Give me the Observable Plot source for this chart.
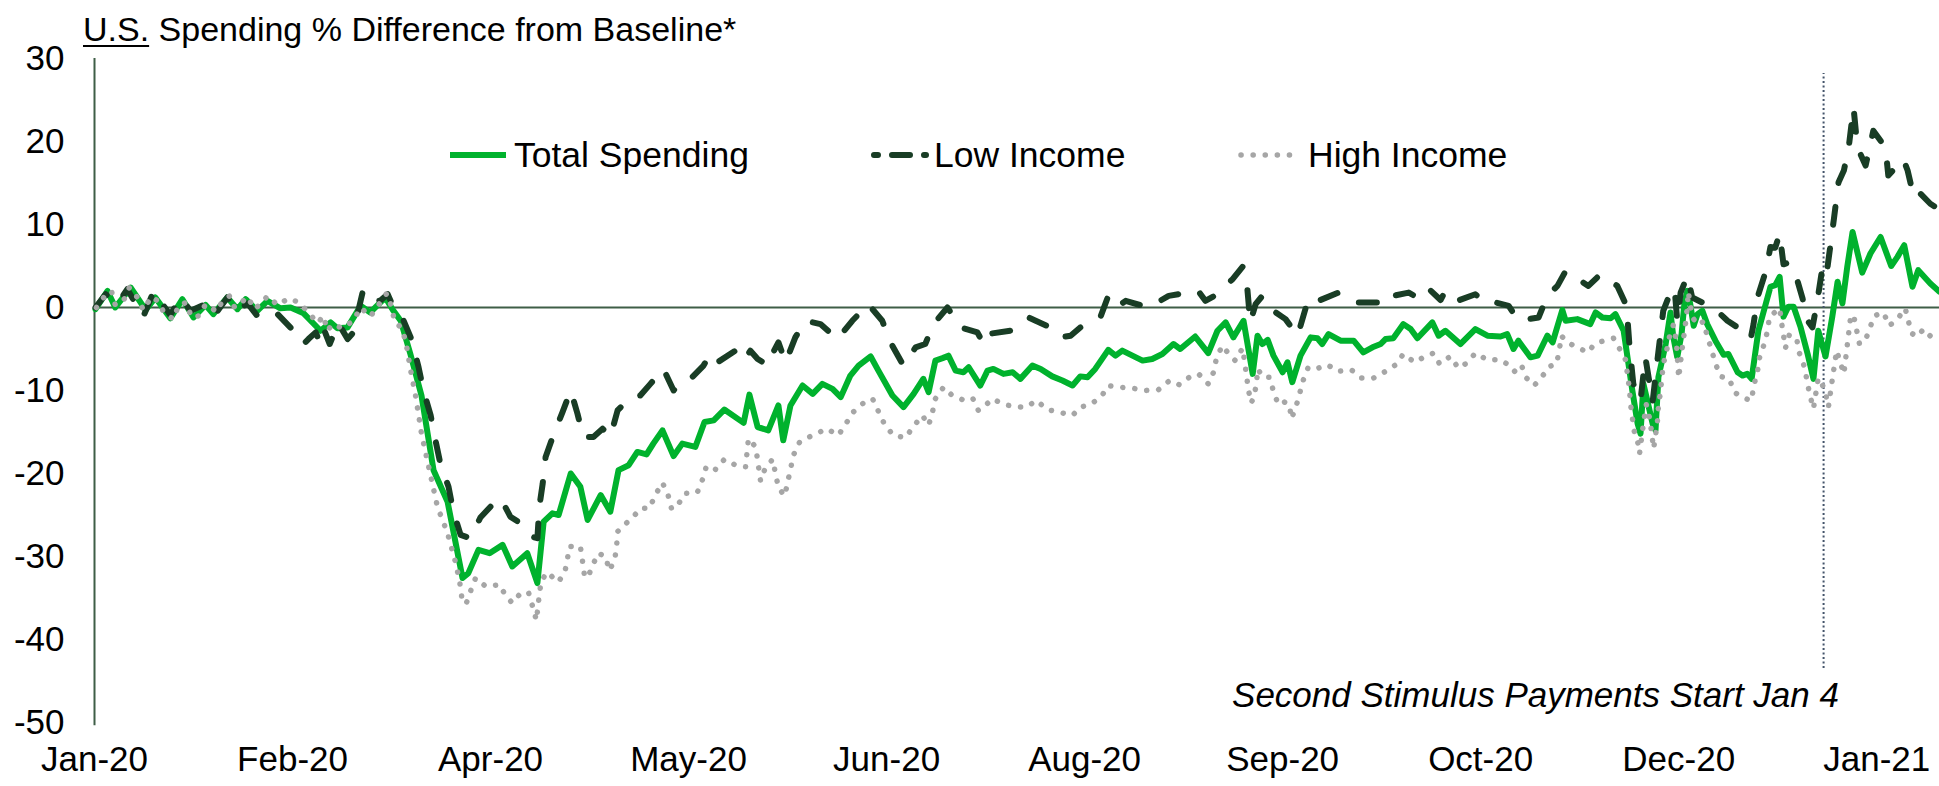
<!DOCTYPE html>
<html>
<head>
<meta charset="utf-8">
<script src="https://cdn.jsdelivr.net/npm/d3@7"></script>
<script src="https://cdn.jsdelivr.net/npm/@observablehq/plot@0.6"></script>
<style>
html,body{margin:0;padding:0;background:#fff;}
#wrap{position:relative;width:1939px;height:786px;overflow:hidden;font-family:"Liberation Sans",Arial,Helvetica,sans-serif;}
#title{position:absolute;left:83px;top:12px;font-size:34px;line-height:34px;color:#000;white-space:nowrap;}
#title u{text-decoration:underline;text-underline-offset:4px;text-decoration-thickness:2px;}
#wrap svg{position:absolute;left:0;top:0;}
</style>
</head>
<body>
<div id="wrap"><div id="title"><u>U.S.</u> Spending % Difference from Baseline*</div></div>
<script>
// ---------- DATA ----------
const baseDate = "2020-01-13";            // day 0 of the day offsets below
const xDomain = ["2020-01-13", "2021-01-29"];
const xTickDates = ["2020-01-13","2020-02-23","2020-04-04","2020-05-15","2020-06-25","2020-08-05","2020-09-15","2020-10-26","2020-12-06","2021-01-16"];
const yTicks = [-50,-40,-30,-20,-10,0,10,20,30];
const stimulusDate = "2021-01-05";
const stimulusSpan = [-43.5, 28.2];
const stimulusLabel = "Second Stimulus Payments Start Jan 4";
const seriesNames = ["Total Spending","Low Income","High Income"];

const totalDays = [0.2,2.7,4.3,7.5,10.6,12.6,15.7,18.2,20.5,23.0,
24.6,27.5,29.6,31.3,33.7,35.8,38.5,40.6,43.3,46.8,
48.9,50.3,52.4,55.1,57.1,60.2,61.9,63.4,65.4,67.7,
70.2,73.1,76.2,77.4,79.5,81.8,84.5,86.5,89.6,91.7,
93.0,94.8,96.1,98.6,100.6,102.1,104.8,106.8,108.5,110.6,
112.4,114.3,115.7,117.6,119.9,121.7,124.4,126.3,128.2,130.4,
134.4,135.6,137.3,139.5,141.6,142.6,144.1,146.6,148.7,150.7,
152.8,154.5,156.5,158.2,160.7,162.3,165.2,167.5,169.6,171.6,
172.7,174.1,175.6,176.8,178.3,179.9,181.0,183.4,184.9,186.1,
188.2,190.1,191.7,194.2,195.9,198.3,200.4,202.5,204.1,205.6,
207.2,209.9,211.4,212.8,214.9,217.0,219.0,221.1,223.4,224.8,
227.9,230.6,232.5,234.2,235.8,237.9,239.8,240.8,241.8,242.9,
244.1,246.0,247.0,248.0,249.7,251.8,253.2,254.2,255.5,258.0,
260.7,262.7,264.6,266.3,267.3,268.9,271.0,272.5,273.9,277.0,
278.3,279.7,282.8,285.9,288.4,291.1,292.5,293.8,294.8,297.3,
298.8,300.8,301.9,303.9,304.6,307.0,309.7,310.8,312.2,313.9,
314.9,316.6,317.6,318.4,319.5,320.1,320.7,321.5,322.6,323.2,
323.8,325.3,326.3,326.9,327.7,328.6,329.2,329.8,330.4,331.1,
331.9,332.9,333.9,335.6,337.3,338.3,340.2,341.2,342.2,343.1,
344.5,347.0,348.0,348.9,349.7,350.7,351.8,353.2,354.7,355.9,
356.9,358.4,359.8,360.9,361.9,362.9,364.0,366.0,367.7,369.8,
372.0,373.3,374.7,376.4,377.6,380.1,382.0];
const totalSpending = [-0.2,2.0,0,2.4,-0.3,1.2,-1.3,1.0,-1.2,0.3,
-0.8,1.2,-0.2,1.0,-0.4,0.8,-0.1,0,-0.7,-2.8,
-1.8,-2.5,-2.4,0.2,-0.6,1.2,-0.4,-1.6,-5.6,-10.6,
-19.6,-23.4,-32.6,-32,-29.2,-29.6,-28.6,-31.2,-29.6,-33.2,
-25.8,-24.8,-25,-20,-21.6,-25.6,-22.6,-24.6,-19.6,-19,
-17.4,-17.7,-16.4,-14.8,-17.9,-16.4,-16.8,-13.8,-13.6,-12.3,
-13.9,-10.5,-14.4,-14.8,-11.8,-16,-11.8,-9.4,-10.4,-9.2,
-9.8,-10.8,-8.2,-7,-5.9,-7.6,-10.6,-12,-10.4,-8.6,
-10.2,-6.4,-6.1,-5.8,-7.6,-7.8,-7.2,-9.4,-7.6,-7.4,
-8,-7.8,-8.6,-7,-7.4,-8.3,-8.8,-9.4,-8.3,-8.4,
-7.4,-5.1,-5.8,-5.2,-5.8,-6.4,-6.2,-5.6,-4.4,-5,
-3.5,-5.5,-2.8,-1.8,-3.6,-1.6,-8,-3.4,-4.4,-3.9,
-5.8,-7.8,-6.6,-9,-5.8,-3.6,-3.7,-4.4,-3.2,-4,
-4,-5.4,-4.8,-4.4,-3.8,-3.7,-2,-2.6,-3.7,-1.8,
-3.4,-2.8,-4.4,-2.6,-3.4,-3.5,-3.2,-5,-4,-6,
-5.8,-3.4,-4.2,-0.3,-1.6,-1.4,-2,-0.6,-1.2,-1.3,
-0.8,-2.8,-6.8,-10,-14,-15.2,-9.2,-11.2,-14,-14.8,
-8.4,-4.4,-0.6,-3.6,-6,-3.2,0.6,2,0.4,-2.2,
-0.8,-0.4,-2,-4,-5.7,-5.6,-7.8,-8.2,-8,-8.6,
-2.8,2.5,2.7,3.7,-1.1,0.1,0.1,-2.3,-5.6,-8.6,
-2.8,-5.9,-1.1,3.1,0.5,4.9,9.1,4.2,6.5,8.5,
5,6.1,7.5,2.5,4.5,2.9,1.9];

const lowDays = [0.2,2.3,4.8,6.8,10.1,12.2,15.7,17.8,19.9,22.6,
24.6,27.5,29.6,31.7,33.7,35.8,37.9,41.2,43.3,44.3,
45.8,46.8,47.6,48.7,50.5,52.4,53.6,54.7,55.5,56.5,
59.2,60.7,61.7,63.8,65.6,67.1,68.1,69.6,70.6,71.6,
73.3,74.3,75.8,77.8,79.9,82.0,84.1,86.1,88.2,90.5,
91.7,92.1,92.8,93.4,95.0,96.9,98.6,100.0,101.2,103.3,
105.2,106.8,108.3,111.0,113.0,115.1,117.8,119.9,121.7,123.4,
126.1,127.5,129.0,132.7,134.4,135.8,137.3,139.5,140.0,141.6,
143.1,145.1,147.2,150.3,153.8,156.9,160.2,163.1,164.8,167.5,
170.0,172.0,173.7,176.6,179.3,182.8,184.1,184.9,189.6,193.4,
197.9,200.0,202.1,204.1,208.3,209.9,211.8,213.5,218.2,222.4,
226.3,228.4,230.0,232.5,235.6,237.7,238.7,239.3,240.4,241.8,
244.1,246.6,249.1,251.1,252.4,253.8,257.6,261.5,265.6,268.3,
268.9,272.1,273.9,276.0,278.7,279.7,282.2,285.9,288.4,290.1,
292.8,294.8,299.0,300.8,302.9,304.6,309.3,311.8,315.3,317.2,
317.8,318.6,320.1,321.1,322.6,323.6,324.2,324.8,326.7,327.3,
327.7,328.4,329.8,330.8,332.9,335.2,338.1,341.8,342.9,343.5,
344.3,346.0,347.0,348.0,348.9,349.7,350.7,352.2,353.6,354.7,
355.7,356.7,358.0,358.8,360.1,361.1,362.2,363.2,364.2,365.0,
366.7,368.3,370.8,371.4,374.5,375.4,376.6,377.4,380.1,382.0];
const lowIncome = [0,1.6,0.5,2.2,-1.1,1.9,-0.9,1.2,-0.4,0.3,
-1.1,1.2,-0.4,0.5,-1.0,-0.4,-0.8,-2.8,-4.4,-3.8,
-3.0,-4.4,-2.8,-4.4,-1.9,-3.8,-3.0,-0.2,1.8,0.6,
0.85,1.6,0.3,-1.3,-3.8,-7.2,-10,-13,-16,-18.8,
-21.6,-24.6,-27.4,-27.8,-25.3,-24,-23,-25.2,-26,-27.6,
-27.8,-24,-21.2,-18,-15.4,-12.6,-10,-12.8,-15.6,-15.6,
-14.6,-15.6,-12.4,-10.8,-10.6,-9.2,-7.4,-10,-8.8,-8.6,
-7,-5.6,-6.6,-5.2,-6.4,-5.2,-6.2,-7,-6,-4.2,
-6.6,-3.6,-1.6,-2,-3.8,-1.6,0.4,-1.6,-4.2,-7,
-4.8,-4.4,-2,0,-2.4,-3,-4.4,-3.2,-2.8,-1.2,
-2.4,-3.6,-3.4,-2.4,-1.1,1.4,0.1,0.8,0,1.4,
1.8,2.1,0.8,1.6,3.4,4.9,2.2,-1.8,0.4,1.4,
-0.4,-1.4,-3.4,0.6,1.4,0.9,1.8,0.6,0.6,1.8,
1.4,1.8,1.2,2.4,0.9,2,0.8,1.6,0.4,0.6,
0.2,-1.6,-1.2,1.4,2.6,4.4,2.6,4.0,2.6,0.2,
-4.5,-9.2,-11.2,-6.0,-11.4,-6.3,-3.4,-0.4,2.4,1.2,
-1.6,1.8,3.8,1.2,0.6,0,-1.6,-3.0,-3.8,-2.0,
1.2,4.3,7.3,7.2,8.9,5.2,5.4,4.0,1.2,-1.6,
-2.4,0.8,5.7,4.8,10.5,15.1,16.5,19.3,24.1,19.3,
17.1,21.3,19.3,15.9,17.9,16.5,13.5,14.1,12.5,11.8];

const highDays = [0.4,1.9,3.5,4.3,6.0,7.2,8.9,10.1,11.8,13.3,
14.5,16.4,17.4,19.0,20.1,21.7,23.0,25.3,26.5,28.0,
29.0,30.0,31.7,33.1,34.8,35.8,37.9,40.2,42.4,44.3,
46.2,47.4,48.2,49.3,51.3,53.6,55.1,57.1,58.8,60.5,
61.5,62.1,63.4,64.4,65.4,66.5,67.7,69.2,71.0,73.1,
74.7,75.6,76.2,77.0,78.1,78.9,81.0,83.9,85.1,86.5,
88.4,89.9,90.7,91.5,92.1,92.5,93.8,95.9,97.3,97.9,
98.3,100.6,101.0,101.4,102.1,103.1,104.3,105.8,106.6,107.7,
108.1,108.3,109.7,111.6,113.0,114.9,116.1,117.6,118.8,119.5,
120.9,122.2,124.8,125.9,126.7,128.6,130.4,133.1,134.8,135.4,
136.9,137.9,138.9,140.4,141.6,142.9,144.1,144.7,146.0,147.6,
149.5,151.6,154.0,155.5,156.9,159.0,161.1,162.3,163.6,165.4,
167.9,169.6,171.4,172.7,173.5,174.1,175.8,177.4,179.7,181.8,
183.0,184.1,185.9,188.4,191.1,193.0,195.0,197.3,199.6,202.5,
204.1,206.2,208.5,209.9,212.0,214.7,217.4,220.3,222.6,224.6,
226.7,228.6,230.6,231.7,232.3,233.5,235.0,236.2,237.7,238.1,
238.5,238.9,239.5,240.0,240.6,240.8,242.0,243.3,244.1,245.1,
246.4,247.4,247.8,248.7,249.5,250.3,251.3,253.4,255.3,257.4,
260.2,262.3,264.8,267.3,269.4,271.0,273.3,275.2,277.2,278.5,
280.7,282.4,284.1,285.9,288.4,291.1,293.0,294.0,295.4,296.5,
298.1,300.0,301.2,302.7,303.3,303.7,304.8,306.8,309.3,310.4,
312.0,314.5,315.7,317.0,317.4,317.8,318.0,318.4,318.8,319.7,
319.9,320.3,320.7,321.3,322.0,322.4,322.8,323.2,323.6,323.8,
324.2,324.8,325.5,326.1,326.9,327.5,328.0,328.8,329.2,329.6,
330.0,330.4,331.1,331.9,333.1,333.9,334.8,335.6,336.6,338.5,
339.5,341.4,343.1,343.5,344.3,344.7,345.7,346.4,346.8,348.9,
349.3,350.1,350.9,352.4,353.0,354.0,355.1,355.9,356.9,358.2,
359.0,359.8,360.7,362.2,363.6,364.2,365.4,366.5,367.5,368.5,
370.4,371.6,373.3,374.9,376.2,377.4,378.7,380.7,382.0];
const highIncome = [0,1.2,2.0,0.3,0.8,2.4,1.2,-0.3,1.3,0.7,
-0.8,-1.4,0.3,0.6,-1.2,-1.0,0.4,-0.5,0.8,1.4,
0,0.4,1.3,-0.2,0.6,1.4,0.3,1.1,0.6,-0.6,
-1.9,-1.0,-2.8,-2.0,-2.5,-1.6,0,-1.1,0.3,1.7,
0.1,-1.6,-2.4,-3.9,-7.4,-10.7,-15.2,-19.2,-24,-27.2,
-30.6,-33,-35.6,-35.6,-33.8,-32.6,-33.6,-33.4,-34.7,-35.6,
-34.3,-34.4,-36,-37.7,-34.6,-32.9,-31.9,-33.1,-32.1,-30.4,
-28.8,-28.8,-30.4,-32.1,-32.6,-31.1,-29.6,-30,-31.7,-30.4,
-28.8,-27,-26.2,-25.2,-24.2,-24.2,-22.6,-21.1,-22.7,-24.3,
-23.7,-22.4,-22.3,-20.7,-19.1,-19.5,-18.3,-19.1,-19.2,-15.8,
-16.8,-20.9,-19.3,-18.3,-21.7,-22.7,-19.5,-17.8,-16.2,-15.7,
-15.2,-14.6,-15.4,-14.1,-12.7,-11.6,-11,-12.5,-14.1,-15.4,
-15.7,-14.3,-13,-14.2,-12.6,-11,-9.6,-10.5,-11.1,-10.9,
-12.4,-12,-11,-11.7,-12,-12,-11.2,-12.3,-12.6,-13,
-12,-11.7,-10.7,-9.4,-9.6,-9.7,-10,-9.9,-8.8,-9.3,
-8.4,-8,-9.2,-7.8,-6.1,-4.6,-5.7,-6.4,-4.9,-6.4,
-8.1,-9.9,-11.5,-10.8,-9.2,-7.4,-8.4,-8.4,-10.1,-11.7,
-11.4,-11.7,-13.4,-12.1,-10.4,-8.7,-7.2,-7.3,-6.9,-7.7,
-7.5,-8.5,-8.5,-7.7,-6.9,-5.6,-6.6,-6,-5.5,-6.8,
-5.9,-7.3,-6.7,-5.5,-6.3,-6.3,-7,-7.7,-6.9,-8.5,
-9.4,-8.1,-7.1,-6.8,-5.1,-3.4,-4.1,-4.8,-5.4,-4.5,
-4.1,-3.7,-4.9,-6.3,-8.1,-9.8,-11.5,-13.3,-14.9,-16.6,
-17.6,-15.8,-14,-11.7,-13.4,-15.1,-17,-15.5,-13.7,-12,
-10.3,-6.9,-5.2,-3.5,-2.1,-4,-8.5,-4.6,-2.9,-1.1,
1.9,0.2,-1.4,-2.1,-1.7,-3.4,-5.1,-6.7,-8.3,-8.6,
-10.2,-10.9,-11.2,-9.5,-7.8,-6.1,-4.4,-2.8,-1.1,-0.1,
-1.8,-4.9,-3.3,-3.7,-5.5,-7.1,-10.4,-12.2,-8.5,-9.8,
-12.0,-8.7,-5.2,-8.0,-1.1,-0.9,-4.3,-4.2,-2.6,-1.0,
-0.6,-2.2,-1.4,-0.1,-3.1,-3.5,-2.6,-3.8,-4.2];

// ---------- STYLE ----------
const W = 1939, H = 786;
const FONT = '"Liberation Sans", Arial, Helvetica, sans-serif';
const C_TOTAL = "#00B22D", C_LOW = "#193D25", C_HIGH = "#A6A6A6", C_AXIS = "#3F5E47", C_STIM = "#44546A";
const DASH_LOW = "18,24", DOT_HIGH = "0.1,12";

// ---------- BUILD ----------
const base = new Date(baseDate + "T00:00:00Z").getTime();
const toDate = d => new Date(base + d * 864e5);
const mk = (days, vals) => days.map((d, i) => ({date: toDate(d), value: vals[i]}));
const total = mk(totalDays, totalSpending);
const low = mk(lowDays, lowIncome);
const high = mk(highDays, highIncome);
const parse = s => new Date(s + "T00:00:00Z");

const chart = Plot.plot({
  width: W, height: H,
  marginTop: 58, marginBottom: 64, marginLeft: 94, marginRight: 0,
  style: {fontFamily: FONT, fontSize: "35px", color: "#000", background: "transparent", overflow: "visible"},
  x: {type: "utc", domain: xDomain.map(parse), ticks: xTickDates.map(parse),
      tickFormat: d3.utcFormat("%b-%y"), tickSize: 0, tickPadding: 24, label: null},
  y: {domain: [-50, 30], ticks: yTicks, tickFormat: d => String(d), tickSize: 0, tickPadding: 30, label: null},
  marks: [
    Plot.ruleX([{date: parse(xDomain[0]), lo: -50.4, hi: 30}], {x: "date", y1: "lo", y2: "hi", stroke: C_AXIS, strokeWidth: 2}),
    Plot.ruleY([0], {stroke: C_AXIS, strokeWidth: 2}),
    Plot.ruleX([{date: parse(stimulusDate), lo: stimulusSpan[0], hi: stimulusSpan[1]}],
      {x: "date", y1: "lo", y2: "hi", stroke: C_STIM, strokeWidth: 2, strokeDasharray: "2,2.5"}),
    Plot.line(total, {x: "date", y: "value", stroke: C_TOTAL, strokeWidth: 6, strokeLinejoin: "round", strokeLinecap: "round"}),
    Plot.line(low, {x: "date", y: "value", stroke: C_LOW, strokeWidth: 6, strokeDasharray: DASH_LOW, strokeLinejoin: "round", strokeLinecap: "round"}),
    Plot.line(high, {x: "date", y: "value", stroke: C_HIGH, strokeWidth: 5.5, strokeDasharray: DOT_HIGH, strokeLinejoin: "round", strokeLinecap: "round"})
  ]
});
const wrap = document.getElementById("wrap");
wrap.prepend(chart);

// legend + annotation overlay
const ov = d3.select(wrap).append("svg").attr("width", W).attr("height", H)
  .style("font-family", FONT).style("font-size", "35.5px").style("pointer-events", "none");
const legY = 155, legBase = 167;
ov.append("line").attr("x1", 450).attr("x2", 506).attr("y1", legY).attr("y2", legY)
  .attr("stroke", C_TOTAL).attr("stroke-width", 6);
ov.append("text").attr("x", 514).attr("y", legBase).text(seriesNames[0]);
ov.append("line").attr("x1", 874).attr("x2", 926).attr("y1", legY).attr("y2", legY)
  .attr("stroke", C_LOW).attr("stroke-width", 6).attr("stroke-linecap", "round").attr("stroke-dasharray", "4,14,18,14,4");
ov.append("text").attr("x", 934).attr("y", legBase).text(seriesNames[1]);
ov.append("line").attr("x1", 1241).attr("x2", 1298).attr("y1", legY).attr("y2", legY)
  .attr("stroke", C_HIGH).attr("stroke-width", 5.5).attr("stroke-linecap", "round").attr("stroke-dasharray", DOT_HIGH);
ov.append("text").attr("x", 1308).attr("y", legBase).text(seriesNames[2]);
ov.append("text").attr("x", 1839).attr("y", 707).attr("text-anchor", "end")
  .style("font-style", "italic").style("font-size", "35px").text(stimulusLabel);
</script>
</body>
</html>
